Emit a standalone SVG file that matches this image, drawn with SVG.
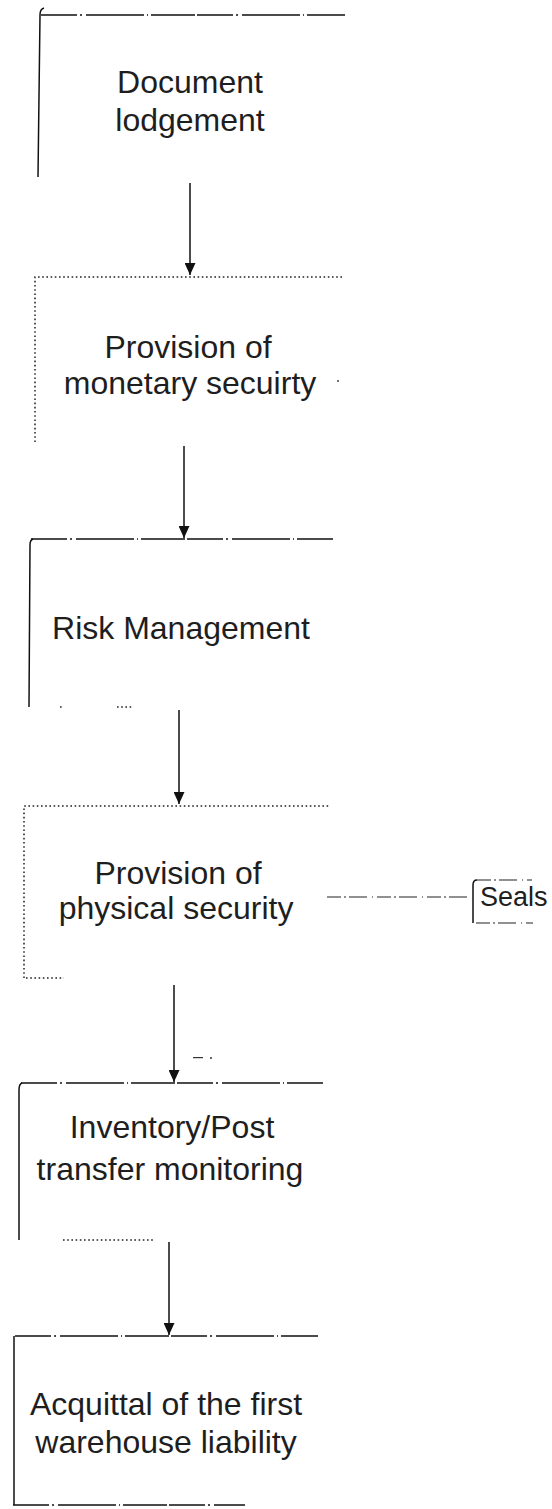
<svg xmlns="http://www.w3.org/2000/svg" width="552" height="1509" viewBox="0 0 552 1509">
  <defs>
    <style>
      .lbl { font-family: "Liberation Sans", Arial, sans-serif; font-size: 32px; fill: #1e1e1e; text-anchor: middle; }
      .small { font-family: "Liberation Sans", Arial, sans-serif; font-size: 27px; fill: #1e1e1e; }
      .edge { fill: none; stroke: #111; stroke-width: 1.5; }
      .rough { fill: none; stroke: #111; stroke-width: 1.4; stroke-dasharray: 36 3 2 4 58 3 1 3 44 2; }
      .dots { fill: none; stroke: #222; stroke-width: 1.5; stroke-dasharray: 1.6 2.6; }
      .link { fill: none; stroke: #111; stroke-width: 1.5; marker-end: url(#head); }
      .thin { fill: none; stroke: #222; stroke-width: 1.2; stroke-dasharray: 14 3 2 3 18 5 1 4; }
    </style>
    <marker id="head" markerUnits="userSpaceOnUse" markerWidth="12" markerHeight="11" refX="12" refY="5.5" orient="auto">
      <path d="M0,0 L12,5.5 L0,11 z" fill="#111"/>
    </marker>
  </defs>

  <rect width="552" height="1509" fill="#fff"/>

  <!-- Step 1 -->
  <g id="document-lodgement">
    <path class="edge" d="M44,8 Q40,9 40,15 L38,177"/>
    <path class="rough" d="M41,15 H345"/>
    <text class="lbl" x="190" y="93">Document</text>
    <text class="lbl" x="190" y="131">lodgement</text>
  </g>

  <!-- Step 2 -->
  <g id="monetary-security">
    <path class="dots" d="M35,442 V277 H342"/>
    <text class="lbl" x="188" y="358">Provision of</text>
    <text class="lbl" x="190" y="394">monetary secuirty</text>
  </g>

  <!-- Step 3 -->
  <g id="risk-management">
    <path class="edge" d="M33,539 Q30,540 30,545 L29,707"/>
    <path class="rough" d="M31,539 H333"/>
    <path class="dots" d="M60,707 H64 M117,707 H132"/>
    <text class="lbl" x="181" y="639">Risk Management</text>
  </g>

  <!-- Step 4 -->
  <g id="physical-security">
    <path class="dots" d="M24,978 V806 H330"/>
    <path class="dots" d="M26,978 H64"/>
    <text class="lbl" x="178" y="884">Provision of</text>
    <text class="lbl" x="176" y="919">physical security</text>
  </g>

  <!-- Side item -->
  <g id="seals">
    <path class="edge" d="M477,880 Q473,880 473,885 V923"/>
    <path class="thin" d="M477,880 H532"/>
    <path class="thin" d="M476,923 H533"/>
    <text class="small" x="480" y="906">Seals</text>
  </g>

  <!-- Step 5 -->
  <g id="inventory-monitoring">
    <path class="edge" d="M22,1083 Q19,1084 19,1090 V1240"/>
    <path class="rough" d="M21,1083 H323"/>
    <path class="dots" d="M63,1240 H153"/>
    <text class="lbl" x="172" y="1138">Inventory/Post</text>
    <text class="lbl" x="170" y="1180">transfer monitoring</text>
  </g>

  <!-- Step 6 -->
  <g id="acquittal">
    <path class="edge" d="M14,1336 V1505"/>
    <path class="rough" d="M15,1336 H318"/>
    <path class="rough" d="M13,1505 H245"/>
    <text class="lbl" x="166" y="1415">Acquittal of the first</text>
    <text class="lbl" x="166" y="1453">warehouse liability</text>
  </g>

  <!-- Flow arrows and the side link -->
  <g id="connectors">
    <line class="link" x1="190" y1="183" x2="190" y2="275"/>
    <line class="link" x1="184" y1="446" x2="184" y2="538"/>
    <line class="link" x1="179" y1="710" x2="179" y2="804"/>
    <line class="link" x1="174" y1="985" x2="174" y2="1082"/>
    <line class="link" x1="169" y1="1242" x2="169" y2="1335"/>
    <path class="thin" d="M327,897 H472"/>
  </g>

  <!-- Loose marks on the sheet -->
  <g id="marks" fill="#333">
    <circle cx="338" cy="381" r="0.9"/>
    <rect x="193" y="1057" width="10" height="1.2"/>
    <circle cx="211" cy="1058" r="1"/>
  </g>
</svg>
